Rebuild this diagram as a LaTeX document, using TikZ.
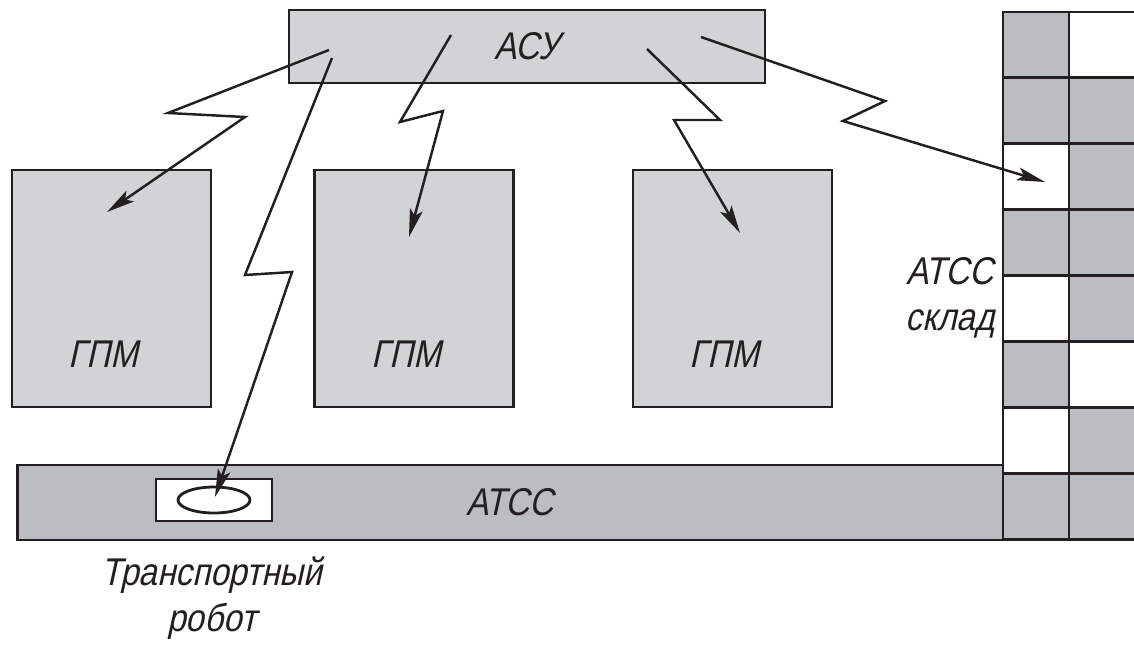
\documentclass[tikz,border=0pt]{standalone}
\usepackage{fontspec}
\newfontfamily\gostfont{Liberation Sans}[FakeSlant=0.22,FakeStretch=0.86]
\usetikzlibrary{arrows.meta,calc,positioning,shapes.geometric}
\definecolor{boxgray}{RGB}{209,211,212}
\definecolor{cellgray}{RGB}{188,189,192}
\definecolor{ink}{RGB}{35,31,32}
\tikzset{
  unit/.style={draw=ink,line width=1.6pt,fill=boxgray,inner sep=0pt},
  gpm/.style={unit,minimum width=3.98cm,minimum height=4.74cm},
  cell/.style={draw=ink,line width=1.6pt,inner sep=0pt,
               minimum width=1.32cm,minimum height=1.318cm},
  lbl/.style={font=\gostfont\fontsize{22}{26}\selectfont,text=ink,inner sep=0pt},
  zig/.style={draw=ink,line width=1.4pt,
              -{Stealth[length=0.56cm,width=0.26cm,inset=0.12cm]}},
}
\begin{document}
\begin{tikzpicture}[x=0.02cm,y=-0.02cm]
  \useasboundingbox (0,0) rectangle (1134,647) ;
%
  \node[unit,lbl,minimum width=9.52cm,minimum height=1.46cm] (asu) at (527,46.5) {АСУ} ;
%
  \node[gpm] (gpm1) at (111.5,288.5) {} ;
  \node[gpm] (gpm2) at (414,288.5) {} ;
  \node[gpm] (gpm3) at (732.5,288.5) {} ;
  \foreach \g in {gpm1,gpm2,gpm3}
    \node[lbl] (\g-txt) at ($(\g.south)+(-8,-54)$) {ГПМ} ;
%
  \node[unit,lbl,fill=cellgray,minimum width=19.72cm,minimum height=1.5cm] (atss) at (510,502.5) {АТСС} ;
  \node[unit,fill=white,minimum width=2.32cm,minimum height=0.84cm] (robot) at (214,500) {} ;
  \node[unit,fill=none,ellipse,minimum width=1.44cm,minimum height=0.52cm] (robotbody) at (robot) {} ;
  \node[lbl,align=center] (robot-txt) at (212,598) {Транспортный\\робот} ;
%
  \foreach \fa/\fb [count=\r] in {cellgray/white,cellgray/cellgray,white/cellgray,cellgray/cellgray,
                                  white/cellgray,cellgray/white,white/cellgray,cellgray/cellgray} {
    \node[cell,fill=\fa] (sk\r-1) at (1036,{12+65.9*(\r-0.5)}) {} ;
    \node[cell,fill=\fb] (sk\r-2) at (1102,{12+65.9*(\r-0.5)}) {} ;
  }
  \node[lbl,align=center] (sklad-txt) at (950,298) {АТСС\\склад} ;
%
  \coordinate (from1) at (329,50) ;   \coordinate (to1) at (107,212) ;
  \coordinate (from2) at (332,58) ;   \coordinate (to2) at (215,497) ;
  \coordinate (from3) at (451,35) ;   \coordinate (to3) at (409,237) ;
  \coordinate (from4) at (647,49) ;   \coordinate (to4) at (740,233) ;
  \coordinate (from5) at (701,37) ;   \coordinate (to5) at (1045,182) ;
%
  \draw[zig] (from1) -- (168,113) -- (245,117) -- (to1) ;
  \draw[zig] (from2) -- (245,275) -- (292,272) -- (to2) ;
  \draw[zig] (from3) -- (400,122) -- (443,111) -- (to3) ;
  \draw[zig] (from4) -- (720,120) -- (674,120) -- (to4) ;
  \draw[zig] (from5) -- (885,101) -- (843,121) -- (to5) ;
\end{tikzpicture}
\end{document}
